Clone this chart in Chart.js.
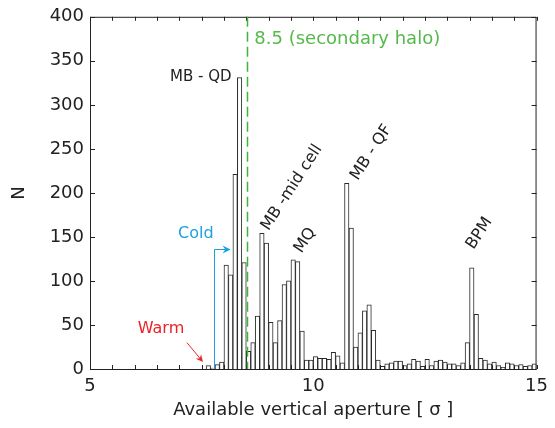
<!DOCTYPE html>
<html lang="en">
<head>
    <meta charset="UTF-8">
    <title>Available vertical aperture</title>
    <script src="https://cdn.jsdelivr.net/npm/chart.js"></script>
    <style>
        body { margin: 0; background: #fff; }
        #apertureChart { display: block; }
    </style>
</head>
<body>
    <canvas id="apertureChart" width="555" height="428"></canvas>

    <script>
        // Histogram bins: 5.0 .. 15.0 in steps of 0.1 sigma
        const binStart = 5;
        const binWidth = 0.1;
        const counts = [
            0, 0, 0, 0, 0, 0, 0, 0, 0, 0,          // 5.0 - 6.0
            0, 0, 0, 0, 0, 0, 0, 0, 0, 0,          // 6.0 - 7.0
            0, 0, 0, 0, 0, 0, 4, 1, 5, 8,          // 7.0 - 8.0
            118, 107, 221, 331, 121, 20, 30, 60, 154, 143,   // 8.0 - 9.0
            53, 30, 55, 96, 100, 124, 122, 43, 10, 10,       // 9.0 - 10.0
            14, 12, 12, 11, 19, 15, 7, 211, 160, 25,         // 10.0 - 11.0
            41, 66, 73, 44, 10, 3, 6, 7, 9, 9,               // 11.0 - 12.0
            4, 6, 11, 9, 3, 11, 4, 9, 10, 8,                 // 12.0 - 13.0
            6, 6, 4, 7, 30, 115, 62, 12, 10, 6,              // 13.0 - 14.0
            8, 4, 2, 7, 6, 4, 5, 3, 4, 6                     // 14.0 - 15.0
        ];
        const yTicks = [0, 50, 100, 150, 200, 250, 300, 350, 400];
        const xTickLabels = [5, 10, 15];
        const haloLimit = 8.5;

        // annotation texts, placed in data coordinates
        const peakLabels = [
            { text: 'MB - QD', x: 7.48, y: 331, rot: 0, size: 15 },
            { text: 'MB -mid cell', x: 9.52, y: 206, rot: -57, size: 16 },
            { text: 'MQ', x: 9.82, y: 146, rot: -57, size: 16 },
            { text: 'MB - QF', x: 11.30, y: 246, rot: -57, size: 16 },
            { text: 'BPM', x: 13.72, y: 154, rot: -57, size: 16 }
        ];

        const fontFamily = '"DejaVu Sans", sans-serif';
        Chart.defaults.font.family = fontFamily;
        Chart.defaults.color = '#222';

        const histData = counts.map((c, i) => ({ x: +(binStart + binWidth * (i + 0.5)).toFixed(2), y: c }));

        function arrowHead(ctx, x0, y0, x1, y1, size, color) {
            const a = Math.atan2(y1 - y0, x1 - x0);
            ctx.fillStyle = color;
            ctx.beginPath();
            ctx.moveTo(x1, y1);
            ctx.lineTo(x1 - size * Math.cos(a - 0.45), y1 - size * Math.sin(a - 0.45));
            ctx.lineTo(x1 - size * 0.6 * Math.cos(a), y1 - size * 0.6 * Math.sin(a));
            ctx.lineTo(x1 - size * Math.cos(a + 0.45), y1 - size * Math.sin(a + 0.45));
            ctx.closePath();
            ctx.fill();
        }

        // frame, inward ticks, halo line and annotations
        const decorations = {
            id: 'decorations',
            afterDatasetsDraw(chart) {
                const ctx = chart.ctx;
                const area = chart.chartArea;
                const xs = chart.scales.x;
                const ys = chart.scales.y;
                ctx.save();

                // box
                ctx.strokeStyle = '#222';
                ctx.lineWidth = 1;
                ctx.strokeRect(area.left + 0.5, area.top + 0.5, area.right - area.left - 1, area.bottom - area.top);

                // y ticks left and right
                ctx.beginPath();
                yTicks.forEach(v => {
                    const py = Math.round(ys.getPixelForValue(v)) + 0.5;
                    ctx.moveTo(area.left, py); ctx.lineTo(area.left + 5, py);
                    ctx.moveTo(area.right, py); ctx.lineTo(area.right - 5, py);
                });
                // x ticks every 0.5, bottom and top
                for (let v = xs.min; v <= xs.max + 1e-9; v += 0.5) {
                    const px = Math.round(xs.getPixelForValue(v)) + 0.5;
                    ctx.moveTo(px, area.bottom); ctx.lineTo(px, area.bottom - 4);
                    ctx.moveTo(px, area.top); ctx.lineTo(px, area.top + 4);
                }
                ctx.stroke();

                // secondary halo line, just right of the bin edge
                const hx = Math.round(xs.getPixelForValue(haloLimit)) + 1.5;
                ctx.strokeStyle = '#3db43a';
                ctx.lineWidth = 1.5;
                ctx.setLineDash([10, 5]);
                ctx.beginPath();
                ctx.moveTo(hx, area.top);
                ctx.lineTo(hx, area.bottom);
                ctx.stroke();
                ctx.setLineDash([]);
                ctx.lineWidth = 1;

                ctx.fillStyle = '#55b94c';
                ctx.font = '18px ' + fontFamily;
                ctx.textAlign = 'left';
                ctx.textBaseline = 'middle';
                ctx.fillText('8.5 (secondary halo)', xs.getPixelForValue(8.68), ys.getPixelForValue(374));

                // peak labels
                ctx.fillStyle = '#222';
                ctx.textAlign = 'center';
                peakLabels.forEach(l => {
                    ctx.save();
                    ctx.font = l.size + 'px ' + fontFamily;
                    ctx.translate(xs.getPixelForValue(l.x), ys.getPixelForValue(l.y));
                    ctx.rotate(l.rot * Math.PI / 180);
                    ctx.fillText(l.text, 0, 0);
                    ctx.restore();
                });

                // Cold bracket
                const blue = '#1ba0e0';
                const cx = Math.round(xs.getPixelForValue(7.77)) + 0.5;
                const cy = Math.round(ys.getPixelForValue(136)) + 0.5;
                const cEnd = xs.getPixelForValue(8.15);
                ctx.strokeStyle = blue;
                ctx.beginPath();
                ctx.moveTo(cx, area.bottom);
                ctx.lineTo(cx, cy);
                ctx.lineTo(cEnd - 4, cy);
                ctx.stroke();
                arrowHead(ctx, cx, cy, cEnd, cy, 9, blue);
                ctx.fillStyle = blue;
                ctx.font = '16px ' + fontFamily;
                ctx.fillText('Cold', xs.getPixelForValue(7.37), ys.getPixelForValue(153));

                // Warm arrow
                const red = '#ec2227';
                const wx0 = xs.getPixelForValue(7.17), wy0 = ys.getPixelForValue(30);
                const wx1 = xs.getPixelForValue(7.53), wy1 = ys.getPixelForValue(8);
                ctx.strokeStyle = red;
                ctx.beginPath();
                ctx.moveTo(wx0, wy0);
                ctx.lineTo(wx1 - 2.5, wy1 - 3);
                ctx.stroke();
                arrowHead(ctx, wx0, wy0, wx1, wy1, 8, red);
                ctx.fillStyle = red;
                ctx.fillText('Warm', xs.getPixelForValue(6.59), ys.getPixelForValue(46));

                ctx.restore();
            }
        };

        new Chart(document.getElementById('apertureChart').getContext('2d'), {
            type: 'bar',
            data: {
                datasets: [{
                    data: histData,
                    backgroundColor: '#ffffff',
                    borderColor: '#2a2a2a',
                    borderWidth: 1,
                    barPercentage: 1,
                    categoryPercentage: 1
                }]
            },
            options: {
                responsive: false,
                animation: false,
                layout: { padding: { top: 14, right: 13, left: 0, bottom: 0 } },
                plugins: {
                    legend: { display: false },
                    tooltip: { enabled: false }
                },
                scales: {
                    x: {
                        type: 'linear',
                        min: 5,
                        max: 15,
                        offset: false,
                        grid: { display: false, drawTicks: false },
                        border: { display: false },
                        afterBuildTicks: s => { s.ticks = xTickLabels.map(v => ({ value: v })); },
                        afterFit: s => { s.height = 59; },
                        ticks: { font: { size: 18 }, padding: 7, maxRotation: 0 },
                        title: {
                            display: true,
                            text: 'Available vertical aperture [ σ ]',
                            font: { size: 18 },
                            padding: { top: 0, bottom: 7 }
                        }
                    },
                    y: {
                        min: 0,
                        max: 400,
                        grid: { display: false, drawTicks: false },
                        border: { display: false },
                        afterBuildTicks: s => { s.ticks = yTicks.map(v => ({ value: v })); },
                        afterFit: s => { s.width = 90; },
                        ticks: { font: { size: 18 }, padding: 6 },
                        title: {
                            display: true,
                            text: 'N',
                            font: { size: 18 },
                            padding: { top: 9, bottom: 0 }
                        }
                    }
                }
            },
            plugins: [decorations]
        });
    </script>
</body>
</html>
